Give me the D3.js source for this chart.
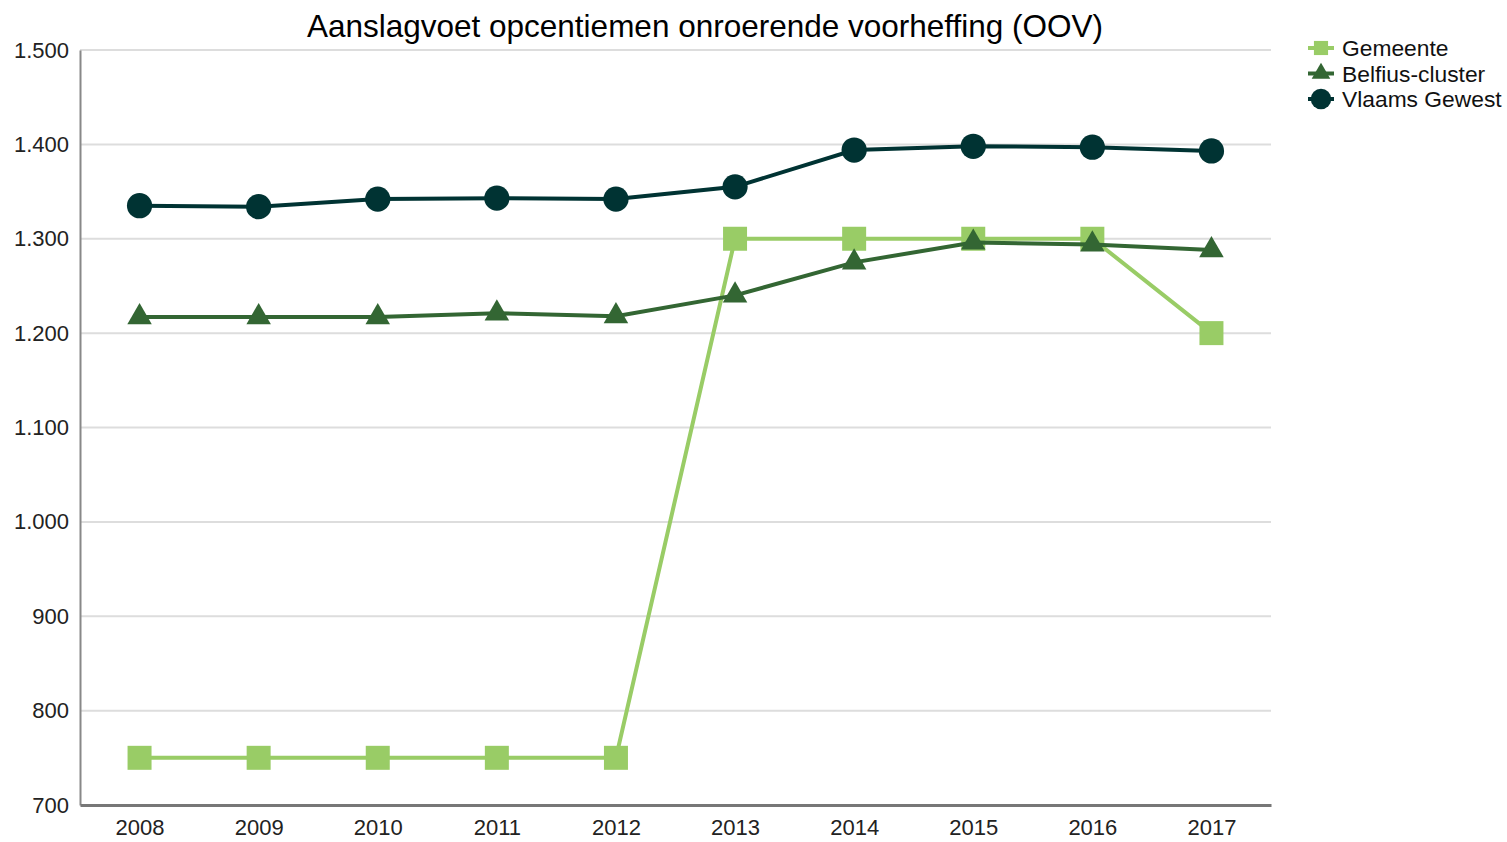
<!DOCTYPE html>
<html>
<head>
<meta charset="utf-8">
<script src="https://cdn.jsdelivr.net/npm/d3@7"></script>
<style>
  body { margin: 0; background: #fff; font-family: "Liberation Sans", Arial, sans-serif; }
</style>
</head>
<body>
<div id="chart"></div>
<script>
// Chart data
const years = ["2008", "2009", "2010", "2011", "2012", "2013", "2014", "2015", "2016", "2017"];
const gemeente = [750, 750, 750, 750, 750, 1300, 1300, 1300, 1300, 1200];
const belfius = [1217, 1217, 1217, 1221, 1218, 1240, 1275, 1296, 1294, 1288];
const vlaams = [1335, 1334, 1342, 1343, 1342, 1355, 1394, 1398, 1397, 1393];
const yTicks = [700, 800, 900, 1000, 1100, 1200, 1300, 1400, 1500];

const series = [
  { name: "Gemeente", values: gemeente, color: "#99cc66", shape: "square" },
  { name: "Belfius-cluster", values: belfius, color: "#336633", shape: "triangle" },
  { name: "Vlaams Gewest", values: vlaams, color: "#003333", shape: "circle" }
];

const width = 1507, height = 842;
const margin = { left: 80, right: 236, top: 50, bottom: 37 };

const svg = d3.select("#chart").append("svg")
  .attr("width", width)
  .attr("height", height);

const x = d3.scalePoint()
  .domain(years)
  .range([margin.left, width - margin.right])
  .padding(0.5);

const y = d3.scaleLinear()
  .domain([700, 1500])
  .range([height - margin.bottom, margin.top]);

const fmt = d => d3.format(",")(d).replace(/,/g, ".");

// Gridlines
svg.append("g")
  .selectAll("line")
  .data(yTicks.filter(t => t > 700))
  .join("line")
  .attr("x1", margin.left)
  .attr("x2", width - margin.right)
  .attr("y1", d => y(d))
  .attr("y2", d => y(d))
  .attr("stroke", "#dddddd")
  .attr("stroke-width", 2);

// Axes
const yAxis = svg.append("g")
  .attr("transform", `translate(${margin.left},0)`)
  .call(d3.axisLeft(y).tickValues(yTicks).tickFormat(fmt).tickSize(0).tickPadding(11));
yAxis.select(".domain").attr("stroke", "#888").attr("stroke-width", 2);
yAxis.selectAll("text")
  .attr("font-size", 22)
  .attr("fill", "#222")
  .attr("font-family", "Liberation Sans, Arial, sans-serif");

const xAxis = svg.append("g")
  .attr("transform", `translate(0,${height - margin.bottom})`)
  .call(d3.axisBottom(x).tickSize(0).tickPadding(14));
xAxis.select(".domain").attr("stroke", "#777").attr("stroke-width", 3);
xAxis.selectAll("text")
  .attr("font-size", 22)
  .attr("fill", "#222")
  .attr("font-family", "Liberation Sans, Arial, sans-serif");

// Symbols
const symbolFor = {
  square: d3.symbol().type(d3.symbolSquare).size(576),
  triangle: d3.symbol().type(d3.symbolTriangle).size(260),
  circle: d3.symbol().type(d3.symbolCircle).size(500)
};

const line = d3.line()
  .x((d, i) => x(years[i]))
  .y(d => y(d));

series.forEach(s => {
  const g = svg.append("g");
  g.append("path")
    .datum(s.values)
    .attr("d", line)
    .attr("fill", "none")
    .attr("stroke", s.color)
    .attr("stroke-width", 4);
  g.selectAll("path.marker")
    .data(s.values)
    .join("path")
    .attr("class", "marker")
    .attr("d", symbolFor[s.shape])
    .attr("transform", (d, i) => `translate(${x(years[i])},${y(d)})`)
    .attr("fill", s.color);
});

// Title
svg.append("text")
  .attr("x", 705)
  .attr("y", 37)
  .attr("text-anchor", "middle")
  .attr("font-size", 31.5)
  .attr("fill", "#000")
  .text("Aanslagvoet opcentiemen onroerende voorheffing (OOV)");

// Legend
const legendSymbols = {
  square: d3.symbol().type(d3.symbolSquare).size(200),
  triangle: d3.symbol().type(d3.symbolTriangle).size(150),
  circle: d3.symbol().type(d3.symbolCircle).size(330)
};

const legend = svg.append("g")
  .selectAll("g")
  .data(series)
  .join("g")
  .attr("transform", (d, i) => `translate(1321,${48 + i * 25.5})`);

legend.append("line")
  .attr("x1", -13).attr("x2", 13)
  .attr("stroke", d => d.color)
  .attr("stroke-width", 4);

legend.append("path")
  .attr("d", d => legendSymbols[d.shape]())
  .attr("fill", d => d.color);

legend.append("text")
  .attr("x", 21)
  .attr("dy", "0.36em")
  .attr("font-size", 22.8)
  .attr("fill", "#111")
  .text(d => d.name);
</script>
</body>
</html>
